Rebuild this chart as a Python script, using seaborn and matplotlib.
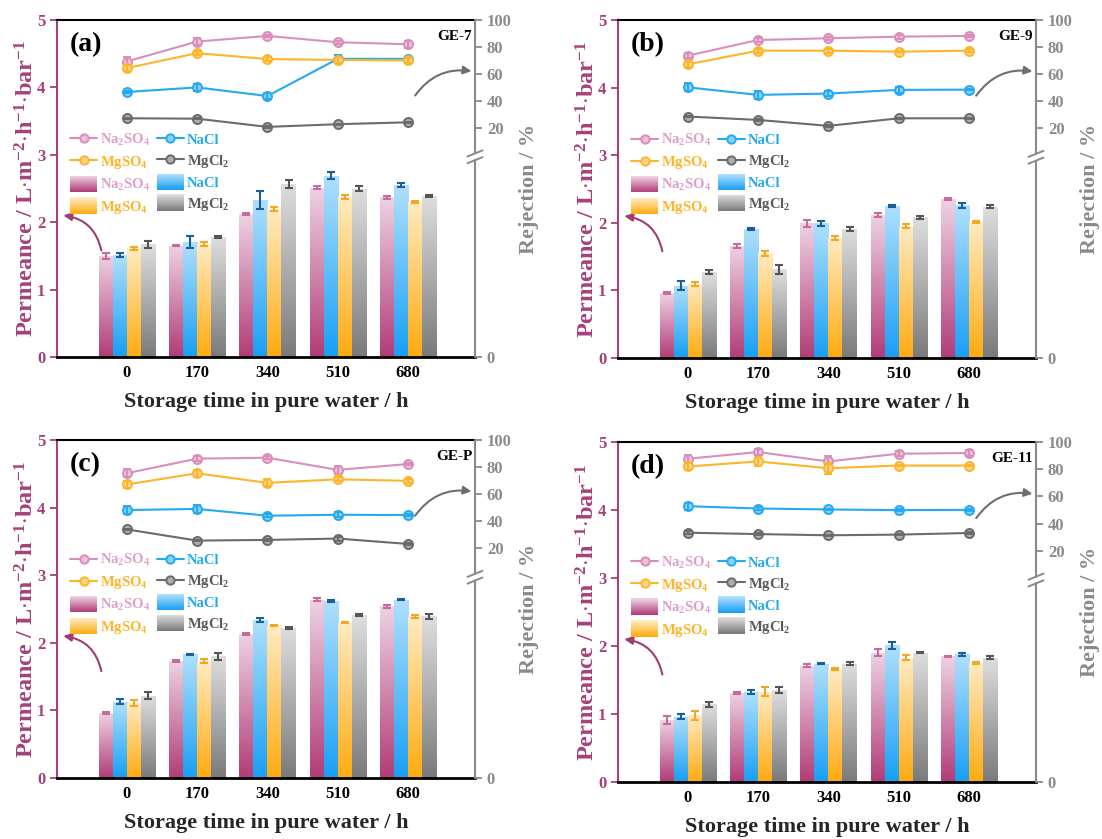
import numpy as np
import pandas as pd
import matplotlib
matplotlib.use('Agg')
import matplotlib.pyplot as plt
import seaborn as sns
from matplotlib.colors import LinearSegmentedColormap, to_rgb
from matplotlib.legend_handler import HandlerBase
from matplotlib.patches import Rectangle
from matplotlib.lines import Line2D

# ---------------- data ----------------
times = ['0', '170', '340', '510', '680']
salts = ['Na2SO4', 'NaCl', 'MgSO4', 'MgCl2']
salt_labels = [r'Na$_2$SO$_4$', 'NaCl', r'MgSO$_4$', r'MgCl$_2$']
panel_tags = ['(a)', '(b)', '(c)', '(d)']
membranes = ['GE-7', 'GE-9', 'GE-P', 'GE-11']

# permeance (rows: Na2SO4, NaCl, MgSO4, MgCl2)
perm_a = [[1.50, 1.65, 2.12, 2.51, 2.37],
          [1.52, 1.70, 2.33, 2.69, 2.55],
          [1.61, 1.67, 2.20, 2.38, 2.30],
          [1.67, 1.78, 2.57, 2.50, 2.39]]
perm_err_a = [[0.05, 0.01, 0.01, 0.02, 0.02],
              [0.03, 0.09, 0.14, 0.05, 0.03],
              [0.02, 0.03, 0.03, 0.03, 0.02],
              [0.05, 0.02, 0.06, 0.03, 0.01]]
perm_b = [[0.96, 1.66, 1.99, 2.12, 2.35],
          [1.07, 1.91, 1.99, 2.25, 2.26],
          [1.10, 1.55, 1.78, 1.95, 2.01],
          [1.27, 1.31, 1.91, 2.08, 2.24]]
perm_err_b = [[0.02, 0.03, 0.05, 0.03, 0.01],
              [0.07, 0.01, 0.04, 0.01, 0.04],
              [0.03, 0.04, 0.03, 0.03, 0.01],
              [0.03, 0.06, 0.03, 0.02, 0.02]]
perm_c = [[0.96, 1.73, 2.13, 2.64, 2.54],
          [1.13, 1.83, 2.34, 2.62, 2.64],
          [1.11, 1.73, 2.26, 2.30, 2.39],
          [1.22, 1.80, 2.22, 2.41, 2.39]]
perm_err_c = [[0.02, 0.02, 0.01, 0.02, 0.02],
              [0.04, 0.01, 0.03, 0.01, 0.01],
              [0.04, 0.03, 0.01, 0.01, 0.02],
              [0.05, 0.05, 0.02, 0.01, 0.04]]
perm_d = [[0.91, 1.31, 1.71, 1.90, 1.85],
          [0.96, 1.32, 1.74, 2.01, 1.88],
          [0.98, 1.33, 1.66, 1.83, 1.75],
          [1.14, 1.35, 1.74, 1.90, 1.83]]
perm_err_d = [[0.06, 0.02, 0.02, 0.05, 0.01],
              [0.04, 0.03, 0.01, 0.05, 0.02],
              [0.07, 0.06, 0.02, 0.04, 0.01],
              [0.03, 0.04, 0.02, 0.01, 0.02]]

# rejection, % (rows: Na2SO4, NaCl, MgSO4, MgCl2)
rej_a = [[69.2, 84.0, 88.2, 83.5, 82.0],
         [46.6, 50.0, 43.6, 71.2, 71.2],
         [64.3, 75.4, 71.0, 70.4, 70.0],
         [27.1, 26.8, 20.7, 22.7, 24.1]]
rej_err_a = [[3.0, 2.5, 1.0, 1.0, 2.5],
             [1.0, 2.5, 2.0, 3.0, 1.0],
             [2.5, 1.5, 1.5, 2.5, 2.0],
             [0.5, 0.5, 0.5, 0.5, 0.5]]
rej_b = [[73.6, 85.2, 86.5, 87.7, 88.2],
         [50.2, 44.6, 45.6, 48.3, 48.5],
         [67.2, 77.3, 77.3, 76.6, 77.3],
         [28.6, 26.1, 21.7, 27.3, 27.3]]
rej_err_b = [[2.0, 1.5, 1.0, 1.5, 0.5],
             [3.0, 3.0, 2.0, 2.5, 0.5],
             [2.0, 1.5, 1.5, 0.5, 1.0],
             [0.5, 0.5, 0.5, 0.5, 0.5]]
rej_c = [[75.4, 86.2, 86.9, 77.9, 82.2],
         [48.2, 49.0, 44.0, 44.7, 44.5],
         [67.1, 75.4, 68.3, 70.9, 69.8],
         [33.9, 25.6, 26.1, 27.1, 23.1]]
rej_err_c = [[3.0, 2.0, 1.0, 3.0, 0.5],
             [3.0, 3.0, 1.0, 2.0, 1.0],
             [2.5, 2.5, 2.5, 1.5, 1.5],
             [0.5, 0.5, 0.5, 1.5, 1.0]]
rej_d = [[87.7, 92.6, 85.7, 91.4, 91.9],
         [52.8, 51.1, 50.4, 49.9, 50.1],
         [82.0, 85.7, 80.7, 82.7, 82.7],
         [33.3, 32.3, 31.4, 31.9, 33.1]]
rej_err_d = [[3.0, 2.0, 4.0, 2.0, 2.0],
             [2.5, 1.0, 0.5, 0.5, 0.5],
             [2.5, 3.0, 4.0, 0.5, 0.5],
             [1.0, 1.0, 0.5, 0.5, 1.0]]

# ---------------- style ----------------
sns.set_theme(style='white')
plt.rcParams['font.family'] = ['Liberation Serif', 'DejaVu Serif']
plt.rcParams['font.weight'] = 'bold'
plt.rcParams['mathtext.fontset'] = 'custom'
plt.rcParams['mathtext.rm'] = 'Liberation Serif:bold'
plt.rcParams['mathtext.it'] = 'Liberation Serif:bold'
plt.rcParams['mathtext.bf'] = 'Liberation Serif:bold'
plt.rcParams['mathtext.default'] = 'rm'

MAG = '#A5417B'
GRAY_AX = '#8A8A8A'
bar_bottom = ['#B13C77', '#189FF5', '#FFAB10', '#7A7A7A']
bar_top = ['#EED2E3', '#B0E0FC', '#FFEBC2', '#DEDEDE']
bar_err = ['#C56B9E', '#1B5E9C', '#F5A623', '#555555']
line_col = ['#D98EBB', '#25A9F0', '#FDB52B', '#6B6B6B']
text_col = ['#DDA0C8', '#25A9F0', '#FDB52B', '#5A5A5A']

cmaps = [LinearSegmentedColormap.from_list('g%d' % i, [bar_bottom[i], bar_top[i]])
         for i in range(4)]


def tint(c, f=0.45):
    r = np.array(to_rgb(c))
    return tuple(r + (1 - r) * f)


class GradHandle:
    def __init__(self, cmap):
        self.cmap = cmap


class GradHandler(HandlerBase):
    def create_artists(self, legend, orig_handle, xdescent, ydescent,
                       width, height, fontsize, trans):
        n = 24
        arts = []
        h0 = height * 1.35
        y0 = -ydescent - (h0 - height) / 2
        for k in range(n):
            r = Rectangle((-xdescent, y0 + h0 * k / n), width, h0 / n * 1.05,
                          facecolor=orig_handle.cmap(k / (n - 1)),
                          edgecolor='none', transform=trans)
            arts.append(r)
        return arts


fig = plt.figure(figsize=(11.02, 8.39), dpi=100)

W, H = 1102.0, 839.0
rects = [
    (57 / W, 1 - 357 / H, 418 / W, 337 / H),
    (618 / W, 1 - 358 / H, 418 / W, 338 / H),
    (57 / W, 1 - 778 / H, 418 / W, 338 / H),
    (618 / W, 1 - 782 / H, 418 / W, 340 / H),
]
perms = [perm_a, perm_b, perm_c, perm_d]
perm_errs = [perm_err_a, perm_err_b, perm_err_c, perm_err_d]
rejs = [rej_a, rej_b, rej_c, rej_d]
rej_errs = [rej_err_a, rej_err_b, rej_err_c, rej_err_d]

XLIM = (-0.99, 4.95)
pos = np.arange(len(times))

for p in range(4):
    ax = fig.add_axes(rects[p])
    perm, perr, rej, rerr = perms[p], perm_errs[p], rejs[p], rej_errs[p]
    rows = []
    for si, s in enumerate(salts):
        for ti, t in enumerate(times):
            rows.append({'time': t, 'salt': s, 'perm': perm[si][ti]})
    df = pd.DataFrame(rows)
    sns.barplot(data=df, x='time', y='perm', hue='salt', order=times,
                hue_order=salts, palette=bar_bottom, errorbar=None,
                width=0.8, legend=False, saturation=1, ax=ax,
                edgecolor='none', linewidth=0)
    grad = np.linspace(0, 1, 256).reshape(-1, 1)
    bar_conts = list(ax.containers)[:4]
    for si, cont in enumerate(bar_conts):
        cx, cy = [], []
        for bar in cont:
            x0, w, h = bar.get_x(), bar.get_width(), bar.get_height()
            im = ax.imshow(grad, extent=[x0, x0 + w, 0, h], origin='lower',
                           aspect='auto', cmap=cmaps[si], zorder=2,
                           interpolation='bilinear')
            im.set_clip_path(bar)
            bar.set_facecolor('none')
            cx.append(x0 + w / 2)
            cy.append(h)
        ax.errorbar(cx, cy, yerr=perr[si], fmt='none', ecolor=bar_err[si],
                    elinewidth=1.5, capsize=3, capthick=1.5, zorder=3)

    ax.set_xlim(*XLIM)
    ax.set_ylim(0, 5)
    ax.set_yticks([0, 1, 2, 3, 4, 5])
    ax.set_yticklabels(['0', '1', '2', '3', '4', '5'])
    ax.tick_params(axis='y', direction='out', length=5, width=1.3,
                   colors=MAG, labelsize=12, left=True)
    ax.tick_params(axis='x', length=0, labelsize=12, labelcolor='black', pad=6)
    for lab in ax.get_xticklabels() + ax.get_yticklabels():
        lab.set_fontweight('bold')
    ax.set_xlabel('Storage time in pure water / h', fontsize=16,
                  fontweight='bold', labelpad=8)
    ax.set_ylabel(r'Permeance / L$\cdot$m$^{-2}$$\cdot$h$^{-1}$$\cdot$bar$^{-1}$',
                  fontsize=17.5, fontweight='bold', color=MAG, labelpad=-1)
    ax.spines['left'].set_color(MAG)
    ax.spines['left'].set_linewidth(1.5)
    ax.spines['top'].set_color('black')
    ax.spines['top'].set_linewidth(1.5)
    ax.spines['bottom'].set_color('black')
    ax.spines['bottom'].set_linewidth(2.0)
    ax.spines['right'].set_visible(False)

    ax.annotate('', xy=(-0.9, 2.10), xytext=(-0.36, 1.58),
                arrowprops=dict(arrowstyle='-|>', color='#9C3D73', lw=1.5,
                                connectionstyle='arc3,rad=0.35',
                                mutation_scale=12, shrinkA=0, shrinkB=0))
    ax.text(0.03, 0.965, panel_tags[p], transform=ax.transAxes, ha='left',
            va='top', fontsize=20, fontweight='bold', color='black')
    ax.text(0.993, 0.97, membranes[p], transform=ax.transAxes, ha='right',
            va='top', fontsize=11, fontweight='bold', color='black')

    # rejection on twin axis (broken: 0 at bottom, 20-100 at top)
    ax2 = ax.twinx()
    for si in range(4):
        sns.lineplot(x=pos, y=rej[si], ax=ax2, color=line_col[si],
                     linewidth=1.5, marker='o', markersize=6.5,
                     markerfacecolor=tint(line_col[si]),
                     markeredgecolor=line_col[si], markeredgewidth=1.4,
                     zorder=4 + si)
        ax2.errorbar(pos, rej[si], yerr=rerr[si], fmt='none',
                     ecolor=line_col[si], elinewidth=1.4, capsize=3,
                     capthick=1.4, zorder=4 + si)
    ax2.set_xlim(*XLIM)
    ax2.set_ylim(-150, 100)
    ax2.set_yticks([-150, 20, 40, 60, 80, 100])
    ax2.set_yticklabels(['0', '20', '40', '60', '80', '100'])
    ax2.tick_params(axis='y', direction='out', length=5, width=1.3,
                    colors=GRAY_AX, labelsize=12, right=True)
    for lab in ax2.get_yticklabels():
        lab.set_fontweight('bold')
    ax2.set_ylabel('Rejection / %', fontsize=16, fontweight='bold',
                   color=GRAY_AX, labelpad=5)
    ax2.set_xlabel('')
    for sp in ['left', 'top', 'bottom', 'right']:
        ax2.spines[sp].set_visible(False)
    # broken right spine
    glo, ghi = 0.584, 0.604
    for (y0, y1) in [(0, glo), (ghi, 1)]:
        ax2.add_line(Line2D([1, 1], [y0, y1], transform=ax2.transAxes,
                            color=GRAY_AX, lw=1.5, clip_on=False))
    for yc in (glo, ghi):
        ax2.add_line(Line2D([0.982, 1.018], [yc - 0.009, yc + 0.009],
                            transform=ax2.transAxes, color=GRAY_AX, lw=1.4,
                            clip_on=False))
    ax2.annotate('', xy=(4.9, 62), xytext=(4.1, 44),
                 arrowprops=dict(arrowstyle='-|>', color='#6E6E6E', lw=1.5,
                                 connectionstyle='arc3,rad=-0.3',
                                 mutation_scale=12, shrinkA=0, shrinkB=0))

    # legend
    line_h = [Line2D([], [], color=line_col[i], lw=1.5, marker='o',
                     markersize=6, markerfacecolor=tint(line_col[i]),
                     markeredgecolor=line_col[i], markeredgewidth=1.4)
              for i in range(4)]
    bar_h = [GradHandle(cmaps[i]) for i in range(4)]
    handles = [line_h[0], line_h[2], bar_h[0], bar_h[2],
               line_h[1], line_h[3], bar_h[1], bar_h[3]]
    labels = [salt_labels[0], salt_labels[2], salt_labels[0], salt_labels[2],
              salt_labels[1], salt_labels[3], salt_labels[1], salt_labels[3]]
    tcols = [text_col[0], text_col[2], text_col[0], text_col[2],
             text_col[1], text_col[3], text_col[1], text_col[3]]
    leg = ax2.legend(handles, labels, handler_map={GradHandle: GradHandler()},
                     loc='upper left', bbox_to_anchor=(0.018, 0.685), ncol=2,
                     frameon=False, handlelength=1.85,
                     handleheight=0.9, handletextpad=0.2, labelspacing=0.4,
                     columnspacing=0.45, borderaxespad=0,
                     prop={'weight': 'bold', 'size': 10.5})
    for t, c in zip(leg.get_texts(), tcols):
        t.set_color(c)

fig.savefig('out.png', dpi=100)
